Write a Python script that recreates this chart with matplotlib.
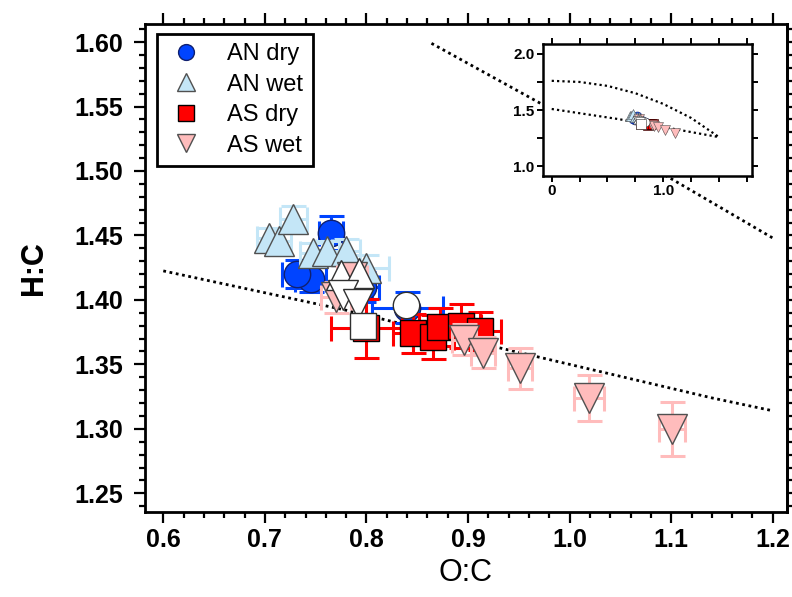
import numpy as np
import matplotlib.pyplot as plt
from matplotlib.ticker import MultipleLocator, FixedLocator, NullFormatter

plt.rcParams['font.family'] = ['Liberation Sans', 'DejaVu Sans']

# AN dry (blue circles)
an_dry_oc = [0.745, 0.797, 0.840, 0.732, 0.765]
an_dry_hc = [1.416, 1.410, 1.394, 1.420, 1.452]
an_dry_xerr = [0.015, 0.015, 0.035, 0.015, 0.012]
an_dry_yerr = [0.010, 0.012, 0.012, 0.011, 0.013]

# AN wet (light blue triangles)
an_wet_oc = [0.800, 0.704, 0.714, 0.728, 0.747, 0.761, 0.780]
an_wet_hc = [1.425, 1.448, 1.446, 1.463, 1.436, 1.438, 1.438]
an_wet_xerr = [0.022, 0.012, 0.012, 0.013, 0.012, 0.012, 0.014]
an_wet_yerr = [0.010, 0.008, 0.008, 0.010, 0.008, 0.008, 0.009]

# AS dry (red squares)
as_dry_oc = [0.800, 0.846, 0.866, 0.872, 0.893, 0.912]
as_dry_hc = [1.378, 1.374, 1.371, 1.379, 1.380, 1.376]
as_dry_xerr = [0.035, 0.020, 0.020, 0.020, 0.020, 0.020]
as_dry_yerr = [0.023, 0.015, 0.017, 0.015, 0.017, 0.015]

# AS wet (pink down triangles)
as_wet_oc = [0.770, 0.786, 0.896, 0.915, 0.951, 1.019, 1.101]
as_wet_hc = [1.402, 1.418, 1.369, 1.359, 1.347, 1.324, 1.300]
as_wet_xerr = [0.015, 0.015, 0.012, 0.012, 0.012, 0.015, 0.013]
as_wet_yerr = [0.012, 0.010, 0.012, 0.012, 0.016, 0.018, 0.021]

# white markers (not in legend)
white_circle = ([0.839], [1.396])
white_square = ([0.797], [1.380])
white_up = ([0.775, 0.793], [1.419, 1.421])
white_down = ([0.777, 0.792], [1.404, 1.397])

# dotted reference lines
main_lower_oc = [0.60, 0.78, 0.93, 1.14, 1.20]
main_lower_hc = [1.4225, 1.392, 1.363, 1.324, 1.314]
main_upper_oc = [0.864, 1.00, 1.10, 1.20]
main_upper_hc = [1.599, 1.540, 1.494, 1.448]
inset_upper_oc = [0.0, 0.25, 0.5, 0.75, 1.0, 1.25, 1.5]
inset_upper_hc = [1.76, 1.75, 1.715, 1.65, 1.555, 1.43, 1.26]
inset_lower_oc = [0.0, 0.6, 1.0, 1.5]
inset_lower_hc = [1.51, 1.42, 1.35, 1.26]

blue = '#0044ff'
lblue = '#c4e6f7'
red = '#ff0000'
pink = '#ffbcbc'


def draw(a, x, y, xe, ye, marker, fc, ec, ms, cap, lw, mew, z, label=None):
    a.errorbar(x, y, xerr=xe, yerr=ye, fmt='none', ecolor=fc, elinewidth=lw,
               capsize=cap, capthick=lw, zorder=z)
    a.plot(x, y, ls='none', marker=marker, mfc=fc, mec=ec, ms=ms, mew=mew,
           zorder=z + 0.5, label=label)


def draw_all(a, big):
    if big:
        ms_c, ms_t, cap, lw, mew = 19, 21, 9, 2.2, 1
    else:
        ms_c, ms_t, cap, lw, mew = 6.5, 7.5, 1.5, 0.9, 0.4
    draw(a, an_dry_oc, an_dry_hc, an_dry_xerr, an_dry_yerr, 'o', blue, '#102070',
         ms_c, cap, lw, mew, 3, 'AN dry')
    draw(a, an_wet_oc, an_wet_hc, an_wet_xerr, an_wet_yerr, '^', lblue, '#505050',
         ms_t, cap, lw, mew, 4, 'AN wet')
    draw(a, as_dry_oc, as_dry_hc, as_dry_xerr, as_dry_yerr, 's', red, 'black',
         ms_c, cap, lw, mew, 5, 'AS dry')
    draw(a, as_wet_oc, as_wet_hc, as_wet_xerr, as_wet_yerr, 'v', pink, '#505050',
         ms_t, cap, lw, mew, 6, 'AS wet')
    for (wx, wy), mk, ms in [(white_circle, 'o', ms_c), (white_up, '^', ms_t),
                             (white_down, 'v', ms_t), (white_square, 's', ms_c)]:
        a.plot(wx, wy, ls='none', marker=mk, mfc='white', mec='#303030', mew=mew,
               ms=ms, zorder=8)


fig = plt.figure(figsize=(7.92, 5.97), dpi=100)
ax = fig.add_axes([145 / 792, 1 - 512 / 597, 642 / 792, 488 / 597])

ax.plot(main_lower_oc, main_lower_hc, color='black', lw=2, ls=(0, (1, 1.3)), zorder=2)
ax.plot(main_upper_oc, main_upper_hc, color='black', lw=2, ls=(0, (1, 1.3)), zorder=2)
draw_all(ax, True)

ax.set_xlim(0.582, 1.214)
ax.set_ylim(1.2355, 1.614)
ax.xaxis.set_major_locator(MultipleLocator(0.1))
ax.xaxis.set_minor_locator(MultipleLocator(0.02))
ax.yaxis.set_major_locator(MultipleLocator(0.05))
ax.yaxis.set_minor_locator(MultipleLocator(0.01))
ax.xaxis.set_major_formatter(lambda v, p: f'{v:.1f}')
ax.yaxis.set_major_formatter(lambda v, p: f'{v:.2f}')
ax.tick_params(which='both', direction='out', top=True, width=1.6)
ax.tick_params(which='major', length=8)
ax.tick_params(which='minor', length=4)
ax.tick_params(labelsize=18)
ax.tick_params(axis='y', pad=8)
for t in ax.get_xticklabels() + ax.get_yticklabels():
    t.set_fontweight('bold')
for s in ax.spines.values():
    s.set_linewidth(2)

sec = ax.secondary_yaxis('right')
sec.yaxis.set_major_locator(MultipleLocator(0.01))
sec.yaxis.set_major_formatter(NullFormatter())
sec.tick_params(direction='out', length=4, width=1.6)
sec.spines['right'].set_linewidth(2)

ax.set_xlabel('O:C', fontsize=22, labelpad=4)
ax.set_ylabel('H:C', fontsize=22, fontweight='bold', labelpad=18)

leg = ax.legend(loc='upper left', bbox_to_anchor=(0.018, 0.98), borderaxespad=0,
                fontsize=17, frameon=True, fancybox=False, framealpha=1,
                edgecolor='black', handletextpad=0.9, labelspacing=0.36,
                borderpad=0.4, markerscale=0.6, handlelength=1.7)
leg.get_frame().set_linewidth(2)
leg.set_zorder(20)

# inset
ai = fig.add_axes([543 / 792, 1 - 176 / 597, 209 / 792, 132 / 597])
ai.plot(inset_upper_oc, inset_upper_hc, color='black', lw=1.6, ls=(0, (1, 1.4)), zorder=2)
ai.plot(inset_lower_oc, inset_lower_hc, color='black', lw=1.6, ls=(0, (1, 1.4)), zorder=2)
draw_all(ai, False)
ai.set_xlim(-0.078, 1.795)
ai.set_ylim(0.915, 2.087)
ai.xaxis.set_major_locator(FixedLocator([0, 1.0]))
ai.xaxis.set_minor_locator(FixedLocator([0.25, 0.5, 0.75, 1.25, 1.5, 1.75]))
ai.xaxis.set_major_formatter(lambda v, p: '0' if v == 0 else f'{v:.1f}')
ai.yaxis.set_major_locator(FixedLocator([1.0, 1.5, 2.0]))
ai.yaxis.set_minor_locator(FixedLocator([1.25, 1.75]))
ai.yaxis.set_major_formatter(lambda v, p: f'{v:.1f}')
ai.tick_params(which='both', direction='out', top=True, right=True, length=4,
               width=1.4, labelsize=11, pad=2)
for t in ai.get_xticklabels() + ai.get_yticklabels():
    t.set_fontweight('bold')
for s in ai.spines.values():
    s.set_linewidth(1.8)

fig.savefig('out.png', dpi=100)
